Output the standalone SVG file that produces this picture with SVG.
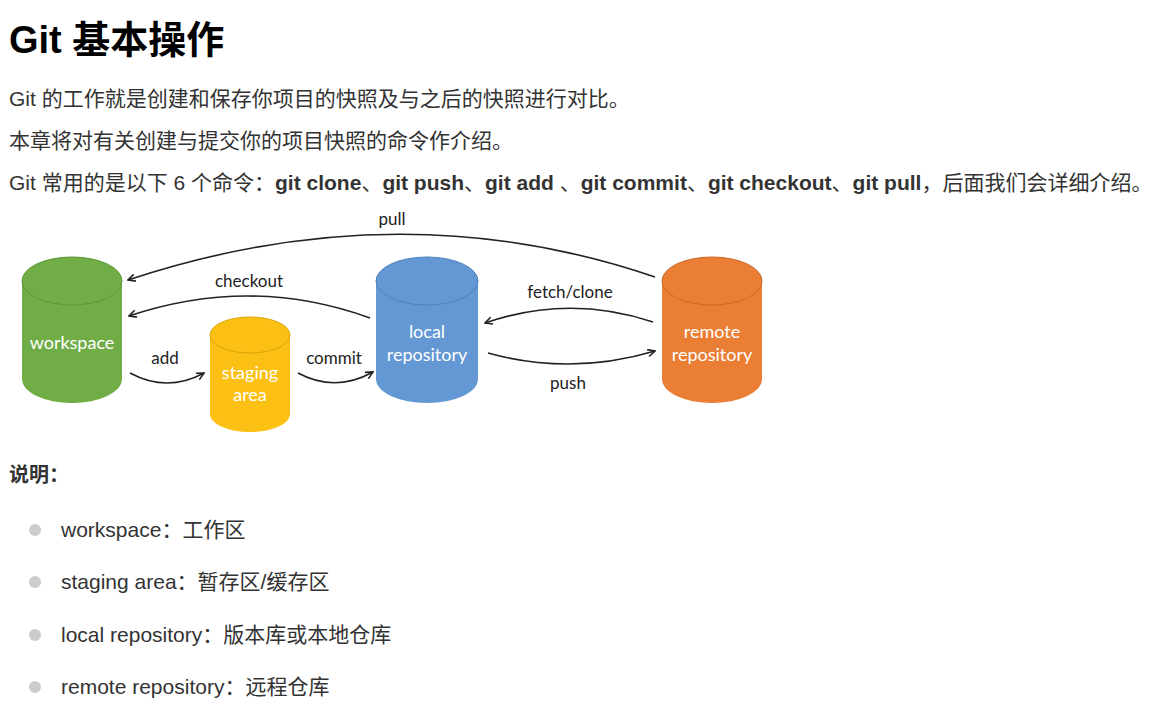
<svg xmlns="http://www.w3.org/2000/svg" width="1168" height="717" viewBox="0 0 1168 717">
<defs>
<style>
.body{font-family:"Liberation Sans","Noto Sans CJK SC",sans-serif;font-size:21px;fill:#333}
.b{font-weight:bold}
.title{font-family:"Liberation Sans","Noto Sans CJK SC",sans-serif;font-size:38px;font-weight:bold;fill:#000}
.lbl{font-family:Lato,"Open Sans",sans-serif;font-size:17px;fill:#222;text-anchor:middle}
.in{font-family:Lato,"Open Sans",sans-serif;font-size:18px;fill:#fff;text-anchor:middle}
.arr{fill:none;stroke:#222;stroke-width:1.6}
.dot{fill:#cccccc}
</style>
<marker id="ah" viewBox="0 0 10 10" refX="9" refY="5" markerWidth="9" markerHeight="9" markerUnits="userSpaceOnUse" orient="auto">
<path d="M1,1 L9,5 L1,9" fill="none" stroke="#222" stroke-width="1.8"/>
</marker>
</defs>
<rect width="1168" height="717" fill="#fff"/>

<text class="title" x="9" y="53">Git 基本操作</text>
<text class="body" x="9" y="106">Git 的工作就是创建和保存你项目的快照及与之后的快照进行对比。</text>
<text class="body" x="9" y="148">本章将对有关创建与提交你的项目快照的命令作介绍。</text>
<text class="body" x="9" y="190">Git 常用的是以下 6 个命令：<tspan class="b">git clone</tspan>、<tspan class="b">git push</tspan>、<tspan class="b">git add</tspan> 、<tspan class="b">git commit</tspan>、<tspan class="b">git checkout</tspan>、<tspan class="b">git pull</tspan>，后面我们会详细介绍。</text>

<g id="workspace">
<path d="M22,281 L22,379 A50,24 0 0 0 122,379 L122,281 Z" fill="#70AD47"/>
<ellipse cx="72" cy="281" rx="50" ry="24" fill="#70AD47" stroke="#5E9639" stroke-width="1"/>
<text class="in" x="72" y="349">workspace</text>
</g>
<g id="staging">
<path d="M210,335 L210,414 A40,18 0 0 0 290,414 L290,335 Z" fill="#FBC013"/>
<ellipse cx="250" cy="335" rx="40" ry="18" fill="#FBC013" stroke="#D9A30A" stroke-width="1"/>
<text class="in" x="250" y="379">staging</text>
<text class="in" x="250" y="401">area</text>
</g>
<g id="local">
<path d="M376,281 L376,379 A51,24 0 0 0 478,379 L478,281 Z" fill="#6398D4"/>
<ellipse cx="427" cy="281" rx="51" ry="24" fill="#6398D4" stroke="#4F82BD" stroke-width="1"/>
<text class="in" x="427" y="338">local</text>
<text class="in" x="427" y="361">repository</text>
</g>
<g id="remote">
<path d="M662,281 L662,379 A50,24 0 0 0 762,379 L762,281 Z" fill="#EA7E35"/>
<ellipse cx="712" cy="281" rx="50" ry="24" fill="#EA7E35" stroke="#C96A28" stroke-width="1"/>
<text class="in" x="712" y="338">remote</text>
<text class="in" x="712" y="361">repository</text>
</g>

<g id="connectors">
<path class="arr" d="M655,277 Q400,190 128,280" marker-end="url(#ah)"/>
<path class="arr" d="M370,318 Q251,275 129,316" marker-end="url(#ah)"/>
<path class="arr" d="M130,373 Q167,393 204,373" marker-end="url(#ah)"/>
<path class="arr" d="M298,373 Q335,393 373,372" marker-end="url(#ah)"/>
<path class="arr" d="M653,322 Q569,294 485,323" marker-end="url(#ah)"/>
<path class="arr" d="M488,353 Q571,376 655,351" marker-end="url(#ah)"/>
<text class="lbl" x="392" y="225">pull</text>
<text class="lbl" x="249" y="287">checkout</text>
<text class="lbl" x="165" y="364">add</text>
<text class="lbl" x="334" y="364">commit</text>
<text class="lbl" x="570" y="298">fetch/clone</text>
<text class="lbl" x="568" y="389">push</text>
</g>

<text class="body b" x="9" y="482" style="font-size:20px">说明：</text>
<circle class="dot" cx="35" cy="530" r="6"/>
<text class="body" x="61" y="537">workspace：工作区</text>
<circle class="dot" cx="35" cy="582" r="6"/>
<text class="body" x="61" y="589">staging area：暂存区/缓存区</text>
<circle class="dot" cx="35" cy="635" r="6"/>
<text class="body" x="61" y="642">local repository：版本库或本地仓库</text>
<circle class="dot" cx="35" cy="687" r="6"/>
<text class="body" x="61" y="694">remote repository：远程仓库</text>
</svg>
